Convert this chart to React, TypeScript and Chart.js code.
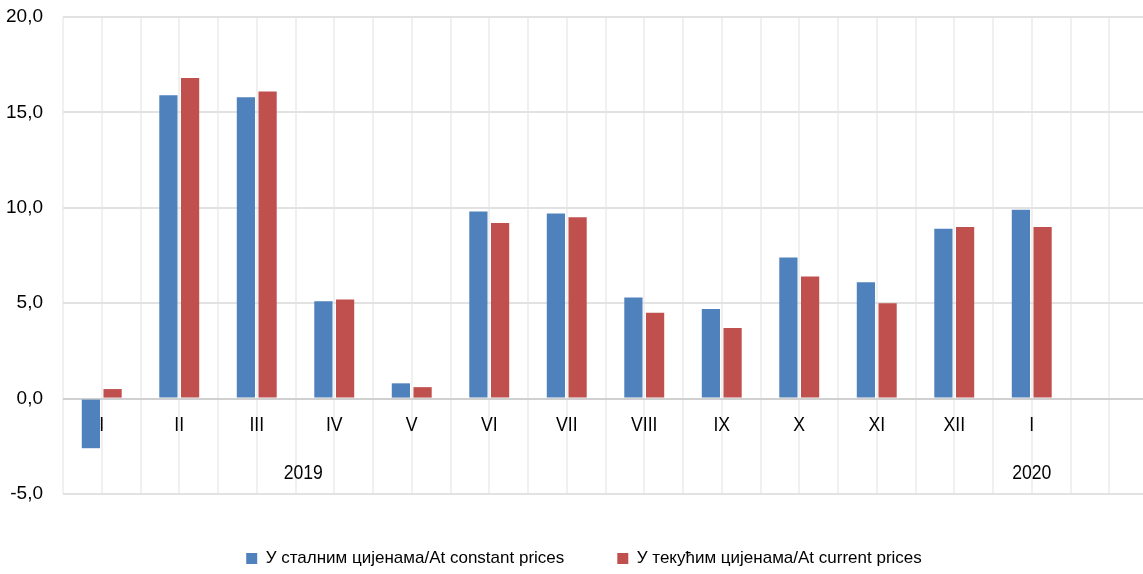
import React, { useEffect, useRef } from "react";
import { Chart, registerables } from "chart.js";

Chart.register(...registerables);

const FONT = "'Liberation Sans', Arial, sans-serif";

const months = ["I", "II", "III", "IV", "V", "VI", "VII", "VIII", "IX", "X", "XI", "XII", "I", ""];
const constantPrices = [-2.6, 15.9, 15.8, 5.1, 0.8, 9.8, 9.7, 5.3, 4.7, 7.4, 6.1, 8.9, 9.9, null];
const currentPrices = [0.5, 16.8, 16.1, 5.2, 0.6, 9.2, 9.5, 4.5, 3.7, 6.4, 5.0, 9.0, 9.0, null];
const years = ["2019", "2020"];
const yearPositions = [2.6, 12];
const yTicks = [-5, 0, 5, 10, 15, 20];
const seriesNames = [
  "У сталним цијенама/At constant prices",
  "У текућим цијенама/At current prices",
];
const seriesColors = ["#4F81BD", "#C0504D"];

const categoryLabels = {
  id: "categoryLabels",
  afterDatasetsDraw(chart: any) {
    const { ctx, scales } = chart;
    const x = scales.x;
    const y = scales.y;
    const y0 = y.getPixelForValue(0);
    const draw = (t: string, px: number, py: number) => {
      ctx.save();
      ctx.translate(px, py);
      ctx.scale(0.84, 1);
      ctx.fillText(t, 0, 0);
      ctx.restore();
    };
    ctx.save();
    ctx.fillStyle = "#000";
    ctx.textAlign = "center";
    ctx.textBaseline = "middle";
    ctx.font = `21px ${FONT}`;
    months.forEach((m, i) => {
      if (m) draw(m, x.getPixelForValue(i), y0 + 27);
    });
    years.forEach((yr, i) => {
      draw(yr, x.getPixelForValue(yearPositions[i]), y0 + 75);
    });
    ctx.restore();
  },
};

const legendShift = {
  id: "legendShift",
  afterLayout(chart: any) {
    const lg = chart.legend;
    if (lg) {
      lg.left += 10;
      lg.right += 10;
    }
  },
};

export default function App() {
  const canvasRef = useRef<HTMLCanvasElement | null>(null);

  useEffect(() => {
    if (!canvasRef.current) return;
    const chart = new Chart(canvasRef.current, {
      type: "bar",
      data: {
        labels: months,
        datasets: [
          {
            label: seriesNames[0],
            data: constantPrices,
            backgroundColor: seriesColors[0],
            borderWidth: 0,
            categoryPercentage: 0.56,
            barPercentage: 0.84,
          },
          {
            label: seriesNames[1],
            data: currentPrices,
            backgroundColor: seriesColors[1],
            borderWidth: 0,
            categoryPercentage: 0.56,
            barPercentage: 0.84,
          },
        ],
      },
      options: {
        responsive: false,
        animation: false,
        layout: { padding: { top: 17, left: 0, right: 2, bottom: 0 } },
        plugins: {
          tooltip: { enabled: false },
          legend: {
            position: "bottom",
            labels: {
              font: { family: FONT, size: 17 },
              color: "#000",
              boxWidth: 11,
              boxHeight: 11,
              padding: 53,
            },
          },
        },
        scales: {
          x: {
            type: "category",
            offset: true,
            grid: { offset: true, color: "#f0f0f0", lineWidth: 2, drawTicks: false },
            border: { display: false },
            ticks: { display: false },
            afterFit: (s: any) => {
              s.height = 3;
            },
          },
          x2: {
            type: "category",
            labels: months,
            position: "bottom",
            offset: true,
            grid: { offset: false, color: "#f0f0f0", lineWidth: 2, drawTicks: false },
            border: { display: false },
            ticks: { display: false },
            afterFit: (s: any) => {
              s.height = 0;
            },
          },
          y: {
            min: -5,
            max: 20,
            afterBuildTicks: (s: any) => {
              s.ticks = yTicks.map((v) => ({ value: v }));
            },
            grid: {
              drawTicks: true,
              tickLength: 20,
              tickColor: "rgba(0,0,0,0)",
              lineWidth: 2,
              color: (c: any) => (c.tick && c.tick.value === 0 ? "#d0d0d0" : "#e2e2e2"),
            },
            border: { display: false },
            ticks: {
              padding: 0,
              color: "#000",
              font: { family: FONT, size: 19 },
              callback: (v: any) => Number(v).toFixed(1).replace(".", ","),
            },
            afterFit: (s: any) => {
              s.width = 63;
            },
          },
        },
      },
      plugins: [categoryLabels, legendShift],
    });
    return () => chart.destroy();
  }, []);

  return (
    <div
      style={{
        position: "fixed",
        left: 0,
        top: 0,
        width: 1143,
        height: 574,
        overflow: "hidden",
        background: "#fff",
      }}
    >
      <canvas ref={canvasRef} width={1150} height={577} style={{ display: "block" }} />
    </div>
  );
}
